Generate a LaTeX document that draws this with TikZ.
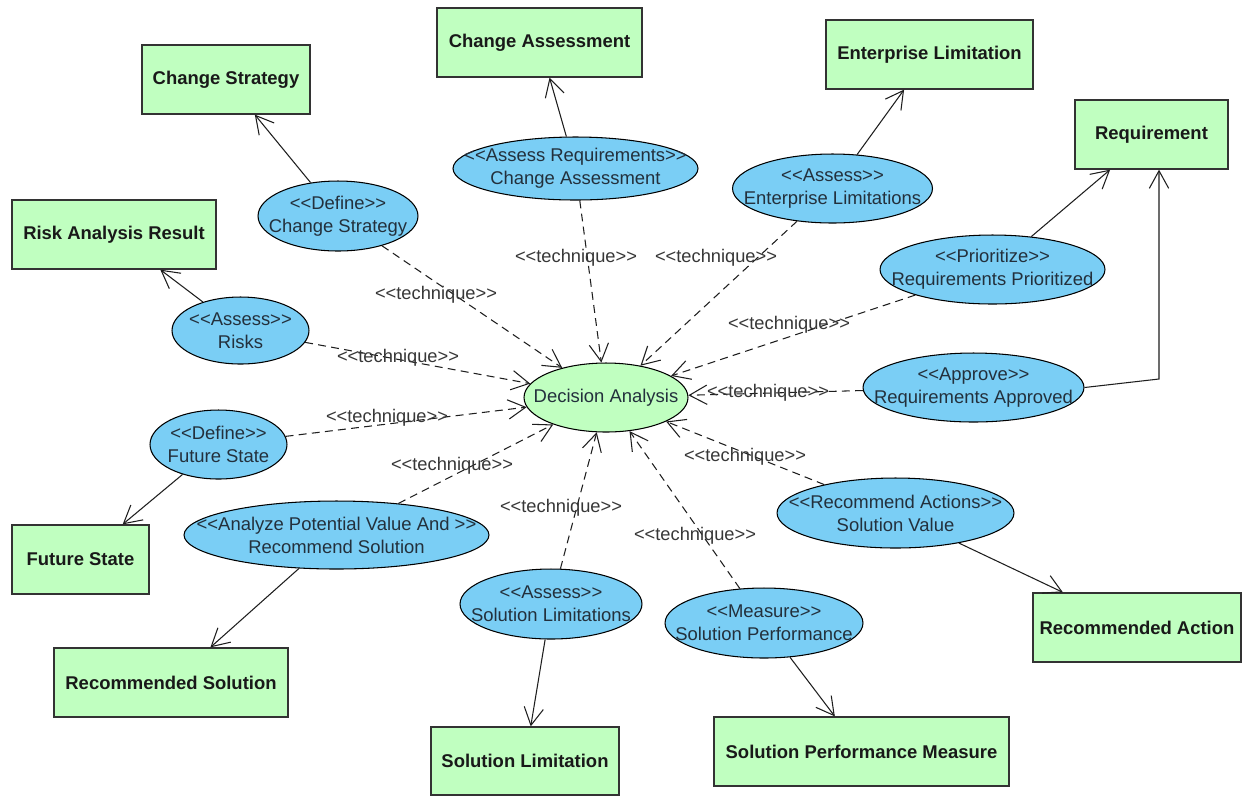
\documentclass[tikz,border=0pt]{standalone}
\usepackage{fontspec}
\newfontfamily\diagfont{Liberation Sans}
\usetikzlibrary{shapes.geometric,arrows.meta}

\definecolor{boxgreen}{RGB}{192,255,192}
\definecolor{ucblue}{RGB}{122,206,245}
\definecolor{edgegray}{RGB}{30,30,30}
\definecolor{uctextcol}{RGB}{35,48,60}
\definecolor{labelgray}{RGB}{55,55,55}

% stereotype brackets, kept apart so no ligature turns them into guillemets
\newcommand{\sto}{<\kern0pt<}
\newcommand{\stc}{>\kern0pt>}

% use case: an empty ellipse of fixed size with its text on top
\newcommand{\ucnode}[5]{%
  \node[usecase,minimum width=#3,minimum height=#4] (#1) at #2 {};
  \node[uctext] (#1-text) at (#1) {#5};}

\begin{document}
\begin{tikzpicture}[x=0.02cm,y=-0.02cm,
  artifact/.style={rectangle,draw=black!80,fill=boxgreen,line width=0.75pt,
    inner sep=0pt,minimum height=1.38cm,text=black!90,
    font=\diagfont\bfseries\fontsize{10.5}{12}\selectfont},
  usecase/.style={ellipse,draw=black,fill=ucblue,line width=0.6pt,inner sep=0pt},
  uctext/.style={align=center,inner sep=0pt,text=uctextcol,
    font=\diagfont\fontsize{10.5}{13.2}\selectfont},
  technique/.style={inner sep=0pt,text=labelgray,
    font=\diagfont\fontsize{10.4}{12}\selectfont},
  produces/.style={draw=edgegray,line width=0.6pt,
    -{Straight Barb[length=10pt,width=11pt]}},
  uses/.style={produces,dash pattern=on 4.5pt off 3pt},
]
\fill[white] (0,0) rectangle (1243,796);
\useasboundingbox (0,0) rectangle (1243,796);

% ---- artifacts ----
\node[artifact,minimum width=3.36cm] (chgstrat)    at (226,79.5)    {Change Strategy};
\node[artifact,minimum width=4.08cm] (riskres)     at (114,234.5)   {Risk Analysis Result};
\node[artifact,minimum width=4.10cm] (chgassess)   at (539.5,42.5)  {Change Assessment};
\node[artifact,minimum width=4.14cm] (entlim)      at (929.5,54.5)  {Enterprise Limitation};
\node[artifact,minimum width=3.06cm] (requirement) at (1151.5,134.5){Requirement};
\node[artifact,minimum width=2.74cm] (futstate)    at (80.5,559.5)  {Future State};
\node[artifact,minimum width=4.68cm] (recsol)      at (171,682.5)   {Recommended Solution};
\node[artifact,minimum width=3.76cm,minimum height=1.36cm] (sollim) at (525,761) {Solution Limitation};
\node[artifact,minimum width=5.90cm] (perfmeas)    at (861.5,751.5) {Solution Performance Measure};
\node[artifact,minimum width=4.16cm] (recaction)   at (1137,627.5)  {Recommended Action};

% ---- use cases ----
\ucnode{defcs}{(338,216)}{3.2cm}{1.4cm}{\sto Define\stc\\Change Strategy}
\ucnode{assreq}{(575.5,168.5)}{4.9cm}{1.26cm}{\sto Assess Requirements\stc\\Change Assessment}
\ucnode{assent}{(832.5,188.5)}{4.0cm}{1.38cm}{\sto Assess\stc\\Enterprise Limitations}
\ucnode{prio}{(992.5,269.5)}{4.5cm}{1.38cm}{\sto Prioritize\stc\\Requirements Prioritized}
\ucnode{appr}{(973.5,387.5)}{4.42cm}{1.38cm}{\sto Approve\stc\\Requirements Approved}
\ucnode{risks}{(240.5,330.5)}{2.74cm}{1.34cm}{\sto Assess\stc\\Risks}
\ucnode{deffs}{(218.5,444.5)}{2.74cm}{1.38cm}{\sto Define\stc\\Future State}
\ucnode{analyze}{(336.5,535)}{6.1cm}{1.36cm}{\sto Analyze Potential Value And \stc\\Recommend Solution}
\ucnode{recact}{(895.5,513)}{4.74cm}{1.4cm}{\sto Recommend Actions\stc\\Solution Value}
\ucnode{asssol}{(551,604)}{3.64cm}{1.4cm}{\sto Assess\stc\\Solution Limitations}
\ucnode{measure}{(764,623)}{3.96cm}{1.4cm}{\sto Measure\stc\\Solution Performance}

% central task
\node[usecase,fill=boxgreen,minimum width=3.28cm,minimum height=1.38cm] (decision) at (606,397.5) {};
\node[uctext] (decision-text) at (decision) {Decision Analysis};

% ---- outputs of the techniques ----
\draw[produces] (defcs) -- (chgstrat);
\draw[produces] (assreq) -- (chgassess);
\draw[produces] (assent) -- (entlim);
\draw[produces] (prio) -- (requirement);
\coordinate (apprbend) at (1159,379);
\draw[produces] (appr.east) -- (apprbend) -- (apprbend |- requirement.south);
\draw[produces] (risks) -- (riskres);
\draw[produces] (deffs) -- (futstate);
\draw[produces] (analyze) -- (recsol);
\draw[produces] (asssol) -- (sollim);
\draw[produces] (measure) -- (perfmeas);
\draw[produces] (recact) -- (recaction);

% ---- technique links into Decision Analysis ----
\foreach \src in {defcs,assreq,assent,prio,appr,risks,deffs,analyze,asssol,measure,recact}
  \draw[uses] (\src) -- (decision);

% ---- link labels ----
\node[technique] (lbl-defcs)   at (436,295) {\sto technique\stc};
\node[technique] (lbl-assreq)  at (576,258) {\sto technique\stc};
\node[technique] (lbl-assent)  at (716,258) {\sto technique\stc};
\node[technique] (lbl-prio)    at (789,325) {\sto technique\stc};
\node[technique] (lbl-appr)    at (768,393) {\sto technique\stc};
\node[technique] (lbl-risks)   at (398,358) {\sto technique\stc};
\node[technique] (lbl-deffs)   at (387,418) {\sto technique\stc};
\node[technique] (lbl-analyze) at (452,466) {\sto technique\stc};
\node[technique] (lbl-asssol)  at (561,508) {\sto technique\stc};
\node[technique] (lbl-measure) at (695,536) {\sto technique\stc};
\node[technique] (lbl-recact)  at (745,457) {\sto technique\stc};
\end{tikzpicture}
\end{document}
